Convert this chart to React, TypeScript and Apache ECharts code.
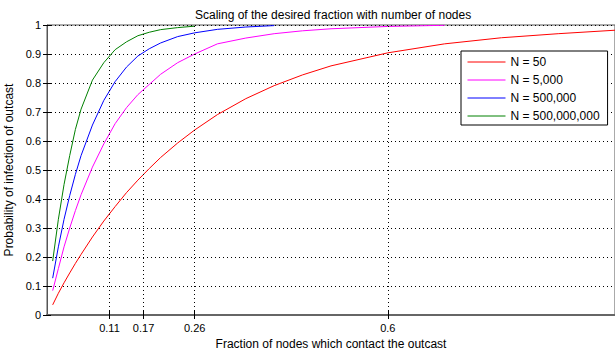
import React, { useEffect, useRef } from "react";
import * as echarts from "echarts";

const xValues = [0.01, 0.02, 0.03, 0.04, 0.05, 0.06, 0.08, 0.1, 0.12, 0.14, 0.16, 0.18, 0.2, 0.23, 0.26, 0.3, 0.35, 0.4, 0.45, 0.5, 0.6, 0.7, 0.8, 0.9, 1.0];

const n50 = [0.035, 0.075, 0.111, 0.145, 0.178, 0.209, 0.269, 0.324, 0.374, 0.422, 0.465, 0.505, 0.543, 0.593, 0.638, 0.691, 0.746, 0.791, 0.828, 0.859, 0.904, 0.935, 0.956, 0.97, 0.982];
const n5000 = [0.084, 0.16, 0.235, 0.3, 0.36, 0.415, 0.51, 0.59, 0.66, 0.715, 0.76, 0.795, 0.83, 0.87, 0.9, 0.935, 0.955, 0.97, 0.98, 0.987, 0.995, 0.999, null, null, null];
const n500k = [0.127, 0.235, 0.33, 0.412, 0.485, 0.55, 0.655, 0.74, 0.805, 0.855, 0.893, 0.918, 0.938, 0.96, 0.973, 0.985, 0.993, 0.998, null, null, null, null, null, null, null];
const n500m = [0.186, 0.33, 0.45, 0.55, 0.64, 0.71, 0.81, 0.87, 0.915, 0.942, 0.963, 0.975, 0.984, 0.991, 0.996, null, null, null, null, null, null, null, null, null, null];

const seriesNames = ["N = 50", "N = 5,000", "N = 500,000", "N = 500,000,000"];
const seriesColors = ["#ff0000", "#ff00ff", "#0000ff", "#008000"];
const xTickValues = [0.11, 0.17, 0.26, 0.6];

const FONT = "Liberation Sans, Arial, Helvetica, sans-serif";

export default function App() {
  const ref = useRef<HTMLDivElement>(null);
  useEffect(() => {
    document.body.style.margin = "0";
    if (!ref.current) return;
    const chart = echarts.init(ref.current, null, { renderer: "svg" });
    const all = [n50, n5000, n500k, n500m];
    const series: any[] = all.map((vals, i) => ({
      name: seriesNames[i],
      type: "line",
      data: xValues.map((x, j) => [x, vals[j]]).filter((p) => p[1] !== null),
      showSymbol: false,
      symbol: "none",
      lineStyle: { color: seriesColors[i], width: 1 },
      itemStyle: { color: seriesColors[i] },
      z: 3,
    }));
    series.push({
      type: "line",
      data: [],
      silent: true,
      markLine: {
        silent: true,
        symbol: "none",
        label: { show: false },
        lineStyle: { color: "#000", width: 1, type: [1, 3] },
        data: xTickValues.map((v) => ({ xAxis: v })),
      },
    });
    chart.setOption({
      animation: false,
      textStyle: { fontFamily: FONT },
      title: {
        text: "Scaling of the desired fraction with number of nodes",
        left: 190,
        top: 4,
        textStyle: { fontSize: 12, fontWeight: "normal", color: "#000", fontFamily: FONT },
      },
      legend: {
        data: seriesNames,
        orient: "vertical",
        left: 461,
        top: 51,
        padding: [5, 8, 3, 6],
        itemGap: 6,
        itemWidth: 38,
        itemHeight: 12,
        backgroundColor: "#fff",
        borderColor: "#000",
        borderWidth: 1,
        itemStyle: { opacity: 0 },
        lineStyle: { width: 1, opacity: 1 },
        textStyle: { fontSize: 12, color: "#000", fontFamily: FONT },
      },
      grid: {
        left: 47,
        top: 25,
        width: 568,
        height: 290,
        show: true,
        borderColor: "#555",
        borderWidth: 1,
        containLabel: false,
        outerBoundsMode: "none",
      },
      xAxis: [
        {
          type: "value",
          min: 0,
          max: 1,
          name: "Fraction of nodes which contact the outcast",
          nameLocation: "middle",
          nameGap: 22,
          nameTextStyle: { fontSize: 12, color: "#000", fontFamily: FONT },
          axisLine: { show: true, lineStyle: { color: "#555" } },
          axisTick: { show: true, inside: true, length: 4, customValues: xTickValues, lineStyle: { color: "#000" } },
          axisLabel: { show: true, customValues: xTickValues, fontSize: 11, color: "#000", margin: 7, fontFamily: FONT },
          splitLine: { show: false },
        },
        {
          type: "value",
          min: 0,
          max: 1,
          position: "top",
          axisLine: { show: true, lineStyle: { color: "#666", width: 2 } },
          axisTick: { show: true, inside: true, length: 4, customValues: xTickValues, lineStyle: { color: "#000" } },
          axisLabel: { show: false },
          splitLine: { show: false },
        },
      ],
      yAxis: [
        {
          type: "value",
          min: 0,
          max: 1,
          interval: 0.1,
          name: "Probability of infection of outcast",
          nameLocation: "middle",
          nameGap: 24,
          nameTextStyle: { fontSize: 12, color: "#000", fontFamily: FONT },
          axisLine: { show: true, lineStyle: { color: "#555" } },
          axisTick: { show: true, inside: true, length: 4, lineStyle: { color: "#000" } },
          axisLabel: {
            fontSize: 11,
            color: "#000",
            margin: 6,
            fontFamily: FONT,
            formatter: (v: number) => String(Math.round(v * 10) / 10),
          },
          splitLine: { show: true, lineStyle: { color: "#000", width: 1, type: [1, 3] } },
        },
        {
          type: "value",
          min: 0,
          max: 1,
          interval: 0.1,
          position: "right",
          axisLine: { show: false },
          axisTick: { show: true, inside: true, length: 4, lineStyle: { color: "#000" } },
          axisLabel: { show: false },
          splitLine: { show: false },
        },
      ],
      series,
    });
    return () => chart.dispose();
  }, []);
  return <div ref={ref} style={{ width: 615, height: 350 }} />;
}
